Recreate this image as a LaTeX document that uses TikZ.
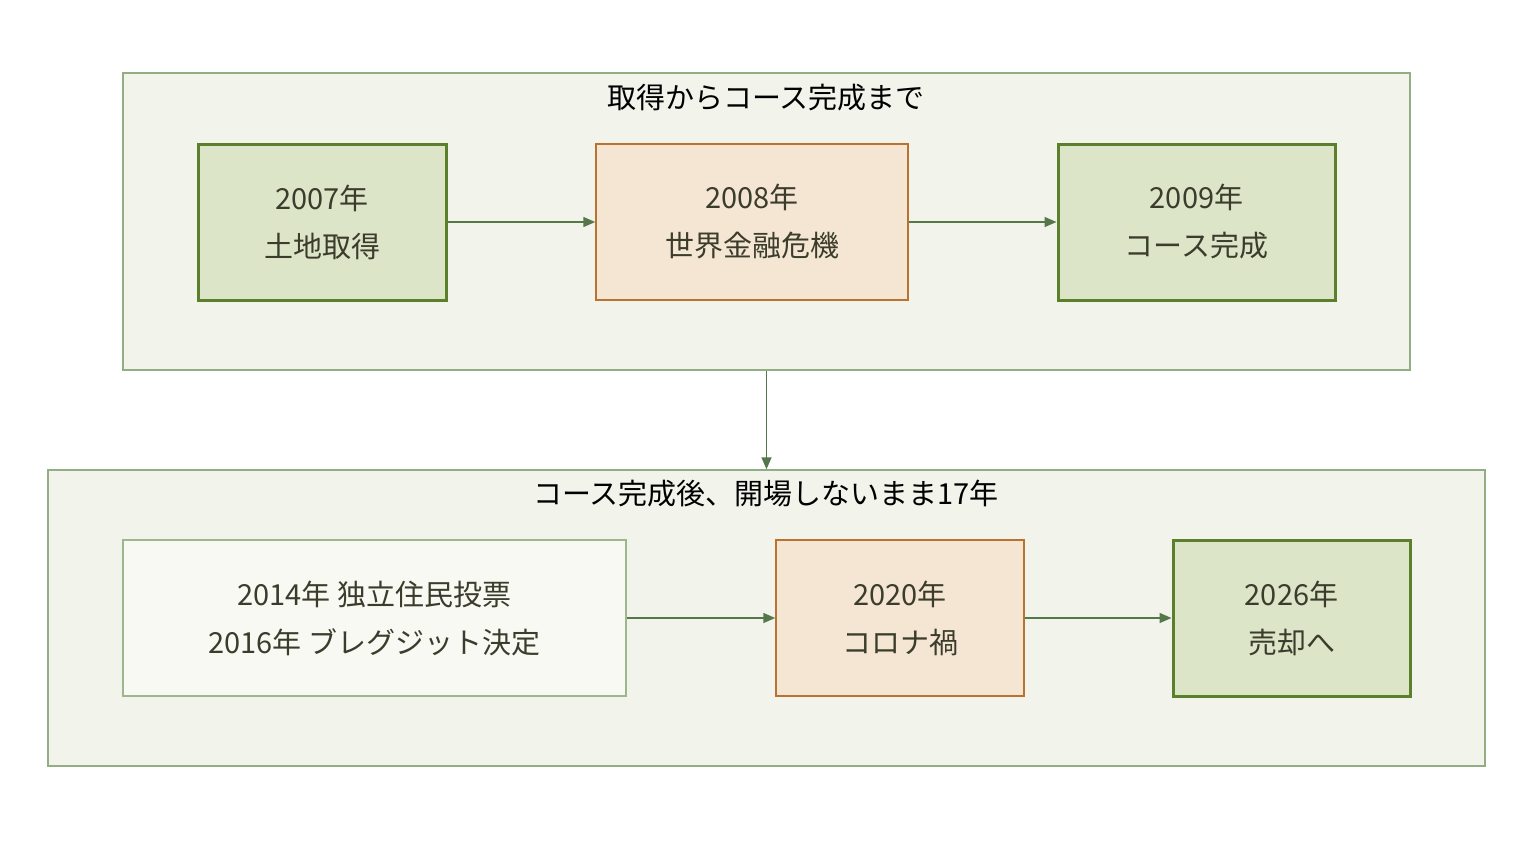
\documentclass[tikz,border=0pt]{standalone}
\usepackage{fontspec}
\setmainfont{Noto Sans CJK JP}
\usetikzlibrary{arrows.meta}
\definecolor{grpfill}{HTML}{F2F3EB}
\definecolor{grpline}{HTML}{93AE84}
\definecolor{gfill}{HTML}{DDE5C9}
\definecolor{gline}{HTML}{5B7F2B}
\definecolor{ofill}{HTML}{F5E6D4}
\definecolor{oline}{HTML}{B9722F}
\definecolor{wfill}{HTML}{F8F9F3}
\definecolor{wline}{HTML}{9DB68B}
\definecolor{txt}{HTML}{3C3C2C}
\definecolor{arr}{HTML}{54784A}
\begin{document}
\begin{tikzpicture}[x=1pt,y=-1pt,
  box/.style={draw,align=center,text=txt,inner sep=0pt,font=\fontsize{29}{48}\selectfont},
  grp/.style={draw=grpline,fill=grpfill,line width=1.5pt,inner sep=0pt},
  gn/.style={box,fill=gfill,draw=gline,line width=3pt},
  on/.style={box,fill=ofill,draw=oline,line width=1.5pt},
  wn/.style={box,fill=wfill,draw=wline,line width=1.5pt},
  ttl/.style={text=black,font=\fontsize{29}{34}\selectfont},
  ar/.style={draw=arr,line width=1.5pt,-{Triangle[length=12pt,width=10pt]}}]
\useasboundingbox (0,0) rectangle (1532,844);
\fill[white] (0,0) rectangle (1532,844);
\node[grp,minimum width=1287pt,minimum height=297pt] (g1) at (766.5,221.5) {};
\node[ttl] (t1) at (766,98) {取得からコース完成まで};
\node[grp,minimum width=1437pt,minimum height=296pt] (g2) at (766.5,618) {};
\node[ttl] (t2) at (766,494) {コース完成後、開場しないまま17年};
\node[gn,minimum width=248pt,minimum height=156pt] (n1) at (322,222) {2007年\\土地取得};
\node[on,minimum width=312pt,minimum height=156pt] (n2) at (752,222) {2008年\\世界金融危機};
\node[gn,minimum width=277pt,minimum height=156pt] (n3) at (1196.5,222) {2009年\\コース完成};
\node[wn,minimum width=503pt,minimum height=156pt] (m1) at (374.5,618) {2014年 独立住民投票\\2016年 ブレグジット決定};
\node[on,minimum width=248pt,minimum height=156pt] (m2) at (900,618) {2020年\\コロナ禍};
\node[gn,minimum width=237pt,minimum height=156pt] (m3) at (1291.5,618) {2026年\\売却へ};
\draw[ar] (n1) -- (n2);
\draw[ar] (n2) -- (n3);
\draw[ar] (m1) -- (m2);
\draw[ar] (m2) -- (m3);
\draw[ar] (g1.south) -- (g2.north);
\end{tikzpicture}
\end{document}
